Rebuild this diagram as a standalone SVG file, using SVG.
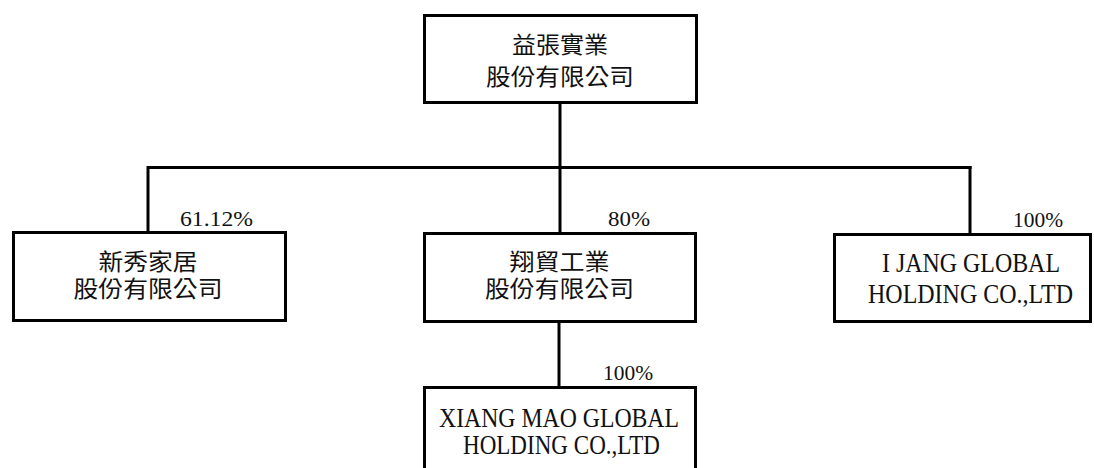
<svg xmlns="http://www.w3.org/2000/svg" width="1094" height="468" viewBox="0 0 1094 468">
<style>
.box{fill:#fff;stroke:#000;stroke-width:3}
.ln{stroke:#000;stroke-width:3;fill:none}
.zh{font-family:"Noto Sans CJK TC","Noto Sans CJK SC",sans-serif;font-size:23px;text-anchor:middle;fill:#111}
.en{font-family:"Liberation Serif",serif;font-size:28px;text-anchor:middle;fill:#111}
.pc{font-family:"Liberation Serif",serif;font-size:22px;fill:#111}
</style>
<rect width="1094" height="468" fill="#fff"/>
<g id="connectors">
<line class="ln" x1="560" y1="103" x2="560" y2="232"/>
<line class="ln" x1="148" y1="167.5" x2="971.5" y2="167.5"/>
<line class="ln" x1="148" y1="166" x2="148" y2="231"/>
<line class="ln" x1="970" y1="166" x2="970" y2="233"/>
<line class="ln" x1="559" y1="322" x2="559" y2="386"/>
<text class="pc" x="180" y="226" textLength="73" lengthAdjust="spacingAndGlyphs">61.12%</text>
<text class="pc" x="608" y="226" textLength="42" lengthAdjust="spacingAndGlyphs">80%</text>
<text class="pc" x="1013" y="227" textLength="50" lengthAdjust="spacingAndGlyphs">100%</text>
<text class="pc" x="603" y="380" textLength="50" lengthAdjust="spacingAndGlyphs">100%</text>
</g>
<g id="parent">
<rect class="box" x="424.5" y="15.5" width="272" height="87"/>
<text class="zh" x="560" y="53" textLength="96" lengthAdjust="spacingAndGlyphs">益張實業</text>
<text class="zh" x="560" y="85" textLength="148" lengthAdjust="spacingAndGlyphs">股份有限公司</text>
</g>
<g id="xinxiu">
<rect class="box" x="13.5" y="232.5" width="272" height="88"/>
<text class="zh" x="148" y="270" textLength="99" lengthAdjust="spacingAndGlyphs">新秀家居</text>
<text class="zh" x="148" y="297" textLength="149" lengthAdjust="spacingAndGlyphs">股份有限公司</text>
</g>
<g id="xiangmao">
<rect class="box" x="424.5" y="233.5" width="271" height="88"/>
<text class="zh" x="559.5" y="270" textLength="100" lengthAdjust="spacingAndGlyphs">翔貿工業</text>
<text class="zh" x="559.5" y="297" textLength="149" lengthAdjust="spacingAndGlyphs">股份有限公司</text>
</g>
<g id="ijang">
<rect class="box" x="834.5" y="234.5" width="256" height="87"/>
<text class="en" x="971" y="272" textLength="178" lengthAdjust="spacingAndGlyphs">I JANG GLOBAL</text>
<text class="en" x="970.5" y="303" textLength="205" lengthAdjust="spacingAndGlyphs">HOLDING CO.,LTD</text>
</g>
<g id="xiangmao-global">
<rect class="box" x="424.5" y="387.5" width="271" height="100"/>
<text class="en" x="559" y="427" textLength="240" lengthAdjust="spacingAndGlyphs">XIANG MAO GLOBAL</text>
<text class="en" x="561.5" y="454" textLength="197" lengthAdjust="spacingAndGlyphs">HOLDING CO.,LTD</text>
</g>
</svg>
